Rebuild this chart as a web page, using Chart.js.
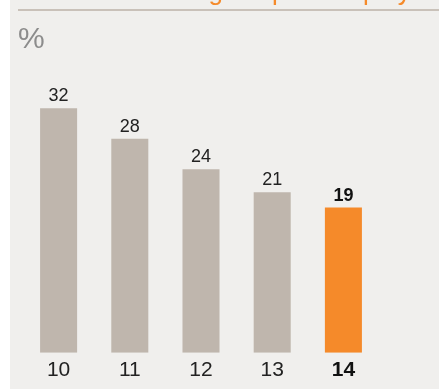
<!DOCTYPE html>
<html>
<head>
<meta charset="utf-8">
<script src="https://cdn.jsdelivr.net/npm/chart.js@4/dist/chart.umd.min.js"></script>
<style>
  html, body { margin: 0; padding: 0; background: #ffffff; }
  #wrap { position: relative; width: 439px; height: 389px; }
</style>
</head>
<body>
<div id="wrap"><canvas id="roaceChart" width="439" height="389"></canvas></div>
<script>
var years = ['10', '11', '12', '13', '14'];
var roace = [32, 28, 24, 21, 19];
var titleText = 'Return on average capital employed';
var unitText = '%';

var FONT = '"Liberation Sans", Arial, Helvetica, sans-serif';
var GREY_BAR = '#bfb6ad';
var ORANGE = '#f58a2a';
var last = years.length - 1;

// panel, cut-off heading, rule and unit label
var backdrop = {
    id: 'backdrop',
    beforeDraw: function (chart) {
        var c = chart.ctx;
        c.save();
        c.fillStyle = '#ffffff';
        c.fillRect(0, 0, chart.width, chart.height);
        c.fillStyle = '#f0efed';
        c.fillRect(10, 0, chart.width - 10, chart.height);

        c.fillStyle = ORANGE;
        c.font = '26px ' + FONT;
        c.textBaseline = 'alphabetic';
        c.textAlign = 'left';
        c.fillText(titleText, 22, 0);

        c.fillStyle = '#f0efed';
        c.fillRect(10, 8, chart.width - 10, 4);
        c.strokeStyle = '#c9c1b9';
        c.lineWidth = 2;
        c.beginPath();
        c.moveTo(18, 10);
        c.lineTo(chart.width, 10);
        c.stroke();

        c.fillStyle = '#8c8c8c';
        c.font = '30px ' + FONT;
        c.fillText(unitText, 18, 48);
        c.restore();
    }
};

// value above each bar
var valueLabels = {
    id: 'valueLabels',
    afterDatasetsDraw: function (chart) {
        var c = chart.ctx;
        var meta = chart.getDatasetMeta(0);
        c.save();
        c.textAlign = 'center';
        c.textBaseline = 'alphabetic';
        meta.data.forEach(function (bar, i) {
            c.font = (i === last ? 'bold ' : '') + '18px ' + FONT;
            c.fillStyle = i === last ? '#111111' : '#222222';
            c.fillText(String(roace[i]), bar.x, bar.y - 7);
        });
        c.restore();
    }
};

new Chart(document.getElementById('roaceChart'), {
    type: 'bar',
    data: {
        labels: years,
        datasets: [{
            data: roace,
            backgroundColor: roace.map(function (v, i) { return i === last ? ORANGE : GREY_BAR; }),
            borderWidth: 0,
            barPercentage: 0.52,
            categoryPercentage: 1
        }]
    },
    options: {
        responsive: false,
        animation: false,
        layout: { padding: { left: 23, right: 60, top: 47, bottom: 1 } },
        plugins: {
            legend: { display: false },
            tooltip: { enabled: false }
        },
        scales: {
            x: {
                grid: { display: false, drawTicks: false },
                border: { display: false },
                ticks: {
                    padding: 5,
                    color: function (ctx) { return ctx.index === last ? '#111111' : '#222222'; },
                    font: function (ctx) {
                        return { family: FONT, size: 21, weight: ctx.index === last ? 'bold' : 'normal' };
                    }
                }
            },
            y: {
                display: false,
                min: 0,
                max: 40
            }
        }
    },
    plugins: [backdrop, valueLabels]
});
</script>
</body>
</html>
